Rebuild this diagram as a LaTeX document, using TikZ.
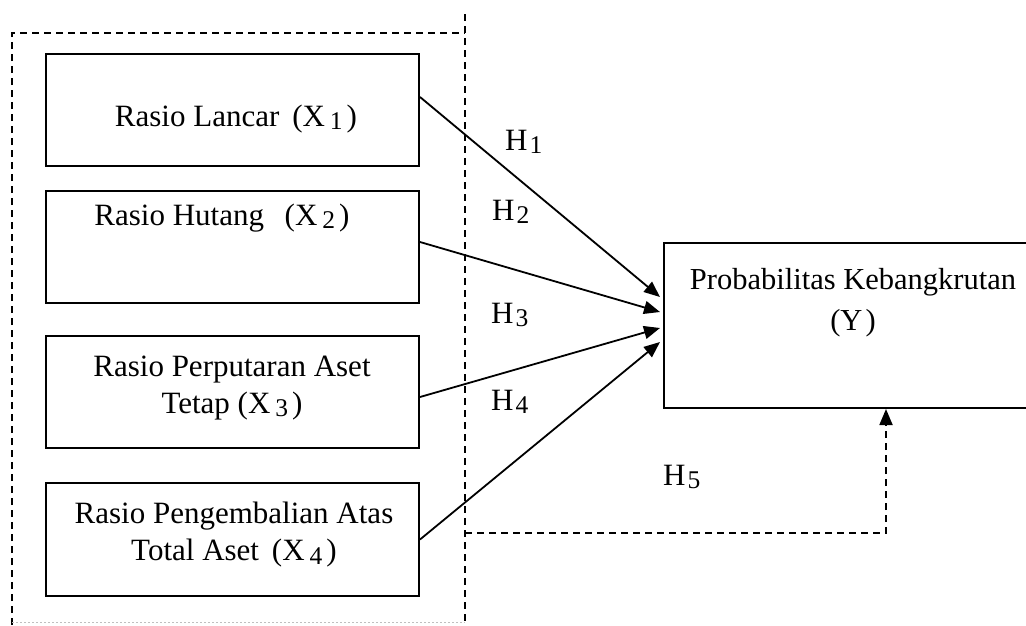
\documentclass[tikz,border=0pt]{standalone}
\usepackage{fontspec}
\setmainfont{Liberation Serif}
\usetikzlibrary{arrows.meta,calc}
\newcommand{\dsub}[1]{\raisebox{-3.5pt}{\fontsize{25.5}{25.5}\selectfont #1}}
\begin{document}
\begin{tikzpicture}[x=1pt,y=-1pt,
  every node/.style={font=\fontsize{31}{37}\selectfont},
  varbox/.style={draw, line width=2pt, inner sep=0pt},
  arr/.style={line width=1.8pt, -{Triangle[length=16pt,width=13pt]}},
  frame/.style={line width=1.8pt, dash pattern=on 7pt off 5pt},
  hlab/.style={anchor=base west, inner sep=0pt}]
\useasboundingbox (0,0) rectangle (1026,625);
% dashed frame
\draw[frame] (465,14) -- (465,625);
\draw[frame] (12,625) -- (12,33) -- (465,33);
\draw[black!25, line width=0.8pt, dash pattern=on 2pt off 2pt] (12,622) -- (465,622);
% independent variable boxes
\node[varbox, minimum width=373pt, minimum height=112pt] (b1) at (232.5,110) {};
\node[anchor=base, inner sep=0pt] (t1) at (236,126) {Rasio Lancar \,(X\hspace{5pt}\dsub{1}\hspace{4pt})};
\node[varbox, minimum width=373pt, minimum height=112pt] (b2) at (232.5,247) {};
\node[anchor=base, inner sep=0pt] (t2) at (222,225) {Rasio Hutang \ \,(X\hspace{5pt}\dsub{2}\hspace{4pt})};
\node[varbox, minimum width=373pt, minimum height=112pt] (b3) at (232.5,392) {};
\node[align=center, inner sep=0pt] (t3) at (232,388) {Rasio Perputaran Aset\\Tetap (X\hspace{5pt}\dsub{3}\hspace{4pt})};
\node[varbox, minimum width=373pt, minimum height=113pt] (b4) at (232.5,539.5) {};
\node[align=center, inner sep=0pt] (t4) at (234,535) {Rasio Pengembalian Atas\\Total Aset \,(X\hspace{5pt}\dsub{4}\hspace{4pt})};
% dependent variable box (its right side runs past the picture's edge)
\node[varbox, minimum width=400pt, minimum height=165pt] (y) at (864,325.5) {};
\node[align=center, inner sep=0pt, font=\fontsize{30.5}{41}\selectfont] (ty) at (853,303) {Probabilitas Kebangkrutan\\(Y\hspace{3pt})};
% arrows
\draw[arr] ([yshift=13pt]b1.east) -- ([xshift=-3pt,yshift=28.5pt]y.west);
\draw[arr] ([yshift=5pt]b2.east) -- ([xshift=-3pt,yshift=13.5pt]y.west);
\draw[arr] ([yshift=-5pt]b3.east) -- ([xshift=-3pt,yshift=-2.5pt]y.west);
\draw[arr] (b4.east) -- ([xshift=-3pt,yshift=-16.5pt]y.west);
% H5 moderating path
\coordinate (h5s) at (465,533);
\draw[frame, -{Triangle[length=16pt,width=13pt]}] (h5s) -| ([xshift=22pt]y.south);
% hypothesis labels
\node[hlab] (h1) at (505,150) {H\hspace{2pt}\dsub{1}};
\node[hlab] (h2) at (492,220) {H\hspace{2pt}\dsub{2}};
\node[hlab] (h3) at (491,323) {H\hspace{2pt}\dsub{3}};
\node[hlab] (h4) at (491,410) {H\hspace{2pt}\dsub{4}};
\node[hlab] (h5) at (663,485) {H\hspace{2pt}\dsub{5}};
\end{tikzpicture}
\end{document}
